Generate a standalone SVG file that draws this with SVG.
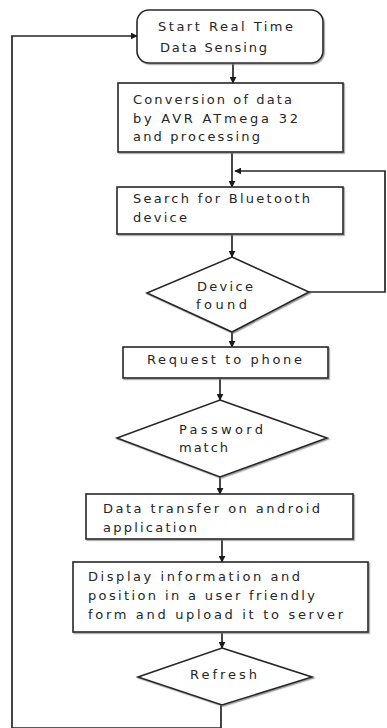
<svg xmlns="http://www.w3.org/2000/svg" width="387" height="728" viewBox="0 0 387 728">
  <style>
    .box { fill: #ffffff; stroke: #262626; stroke-width: 1.6; filter: url(#shade); }
    .lbl { font-family: "DejaVu Sans", "Liberation Sans", sans-serif; font-size: 13px; fill: #262626; }
    .wire { fill: none; stroke: #262626; stroke-width: 1.7; }
  </style>
  <defs>
    <filter id="shade" x="-5%" y="-10%" width="115%" height="130%">
      <feDropShadow dx="1.2" dy="1.2" stdDeviation="0.7" flood-color="#7a7a7a" flood-opacity="0.7"/>
    </filter>
    <marker id="arrow" viewBox="0 0 10 10" refX="9" refY="5" markerWidth="7" markerHeight="7" markerUnits="userSpaceOnUse" orient="auto">
      <path d="M0,0 L10,5 L0,10 z" fill="#1a1a1a"/>
    </marker>
  </defs>

  <!-- connectors -->
  <g id="connectors" class="wire">
    <line x1="233" y1="63" x2="233" y2="83" marker-end="url(#arrow)"/>
    <line x1="232" y1="152" x2="232" y2="187" marker-end="url(#arrow)"/>
    <polyline points="309,292 385,292 385,171 235,171" marker-end="url(#arrow)"/>
    <line x1="232" y1="234" x2="232" y2="257" marker-end="url(#arrow)"/>
    <line x1="232" y1="332" x2="232" y2="347" marker-end="url(#arrow)"/>
    <line x1="220" y1="378" x2="220" y2="400" marker-end="url(#arrow)"/>
    <line x1="220" y1="477" x2="220" y2="494" marker-end="url(#arrow)"/>
    <line x1="222" y1="539" x2="222" y2="562" marker-end="url(#arrow)"/>
    <line x1="222" y1="632" x2="222" y2="648" marker-end="url(#arrow)"/>
    <polyline points="221,705 221,728 12,728 12,36 137,36" marker-end="url(#arrow)"/>
  </g>

  <g id="start">
    <rect class="box" x="137" y="10" width="186" height="53" rx="12" ry="12"/>
    <text class="lbl" x="158" y="30.5" textLength="135" lengthAdjust="spacing">Start Real Time</text>
    <text class="lbl" x="160" y="51.5" textLength="107" lengthAdjust="spacing">Data Sensing</text>
  </g>

  <g id="conversion">
    <rect class="box" x="118" y="83" width="225" height="69"/>
    <text class="lbl" x="133" y="104" textLength="159" lengthAdjust="spacing">Conversion of data</text>
    <text class="lbl" x="133" y="122.5" textLength="165" lengthAdjust="spacing">by AVR ATmega 32</text>
    <text class="lbl" x="133" y="141" textLength="127" lengthAdjust="spacing">and processing</text>
  </g>

  <g id="search">
    <rect class="box" x="117" y="187" width="226" height="47"/>
    <text class="lbl" x="133" y="203" textLength="177" lengthAdjust="spacing">Search for Bluetooth</text>
    <text class="lbl" x="133" y="222" textLength="54" lengthAdjust="spacing">device</text>
  </g>

  <g id="device-found">
    <polygon class="box" points="232,257 309,292 232,332 147,293"/>
    <text class="lbl" x="197" y="291" textLength="56" lengthAdjust="spacing">Device</text>
    <text class="lbl" x="196" y="308.5" textLength="51" lengthAdjust="spacing">found</text>
  </g>

  <g id="request">
    <rect class="box" x="123" y="347" width="205" height="31"/>
    <text class="lbl" x="147" y="364" textLength="155" lengthAdjust="spacing">Request to phone</text>
  </g>

  <g id="password">
    <polygon class="box" points="220,400 327,438 220,477 117,438"/>
    <text class="lbl" x="179" y="434" textLength="84" lengthAdjust="spacing">Password</text>
    <text class="lbl" x="179" y="452" textLength="49" lengthAdjust="spacing">match</text>
  </g>

  <g id="transfer">
    <rect class="box" x="86" y="494" width="267" height="45"/>
    <text class="lbl" x="103" y="513" textLength="217" lengthAdjust="spacing">Data transfer on android</text>
    <text class="lbl" x="103" y="531.5" textLength="94" lengthAdjust="spacing">application</text>
  </g>

  <g id="display">
    <rect class="box" x="73" y="562" width="295" height="70"/>
    <text class="lbl" x="88" y="581" textLength="212" lengthAdjust="spacing">Display information  and</text>
    <text class="lbl" x="88" y="600" textLength="227" lengthAdjust="spacing">position in a user friendly</text>
    <text class="lbl" x="88" y="619" textLength="255" lengthAdjust="spacing">form and upload it to server</text>
  </g>

  <g id="refresh">
    <polygon class="box" points="222,648 312,677 222,705 138,677"/>
    <text class="lbl" x="190" y="678.5" textLength="67" lengthAdjust="spacing">Refresh</text>
  </g>
</svg>
